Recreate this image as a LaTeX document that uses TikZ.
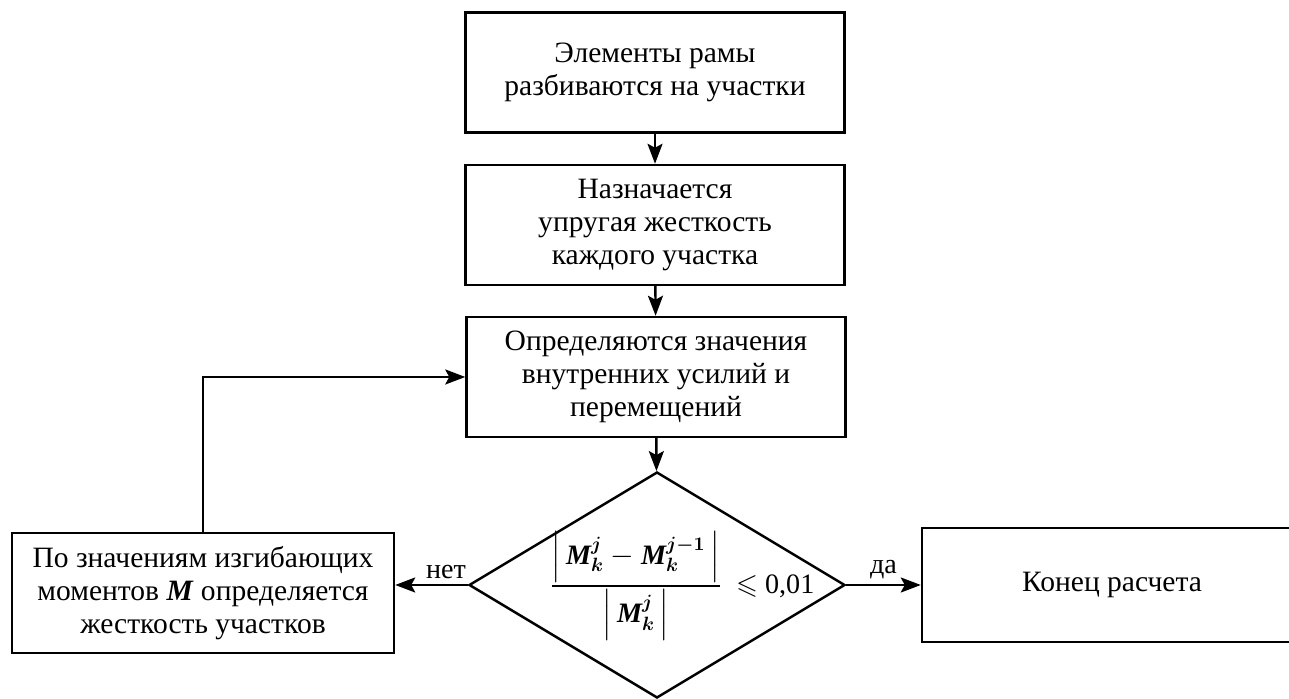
\documentclass[tikz,border=0pt]{standalone}
\usepackage{amsmath, amssymb}
\usepackage{fontspec}
\setmainfont{Liberation Serif}
\usetikzlibrary{shapes.geometric, arrows.meta}

\newcommand{\bM}{\text{\bfseries\itshape M}}

\begin{document}
\begin{tikzpicture}[
    block/.style={draw, line width=1.4pt, minimum width=7.58cm, minimum height=2.4cm,
        align=center, inner sep=2pt, font=\fontsize{16.8}{18.6}\selectfont},
    decision/.style={draw, diamond, line width=1.4pt, minimum width=7.52cm,
        minimum height=4.52cm, inner sep=0pt},
    arrow/.style={line width=1.4pt, -{Stealth[length=4mm, width=3mm, inset=0.8mm]}},
    answer/.style={font=\fontsize{16}{18}\selectfont, inner sep=1pt, above=2pt}
]
    \clip (0, 0) rectangle (25.78, 13.98);

    % Main column
    \node[block] (split) at (13.1, 12.53) {Элементы рамы\\разбиваются на участки};
    \node[block] (assign) at (13.1, 9.48) {Назначается\\упругая жесткость\\каждого участка};
    \node[block] (calc) at (13.12, 6.44) {Определяются значения\\внутренних усилий и\\перемещений};

    % Check
    \node[decision] (check) at (13.14, 2.28) {};
    \node[font=\fontsize{16}{18}\selectfont] (crit) at (13.64, 2.26)
        {$\dfrac{\left|\,\bM_{\boldsymbol{k}}^{\boldsymbol{j}} - \bM_{\boldsymbol{k}}^{\boldsymbol{j-1}}\,\right|}{\left|\,\bM_{\boldsymbol{k}}^{\boldsymbol{j}}\,\right|}$
        \ $\leqslant$ 0,01};

    % Side boxes
    \node[block, minimum width=7.64cm] (stiff) at (4.06, 2.12)
        {По значениям изгибающих\\моментов \textbf{\textit{M}} определяется\\жесткость участков};
    \node[block, minimum width=7.6cm, minimum height=2.28cm] (done) at (22.24, 2.28)
        {Конец расчета};

    % Connectors
    \draw[arrow] (split) -- (assign);
    \draw[arrow] (assign) -- (calc);
    \draw[arrow] (calc) -- (check);
    \draw[arrow] (check.west) -- (check.west -| stiff.east)
        node[answer, pos=0.3] {нет};
    \draw[arrow] (check.east) -- (check.east -| done.west)
        node[answer, midway] {да};
    \draw[arrow] (stiff.north) |- (calc.west);
\end{tikzpicture}
\end{document}
